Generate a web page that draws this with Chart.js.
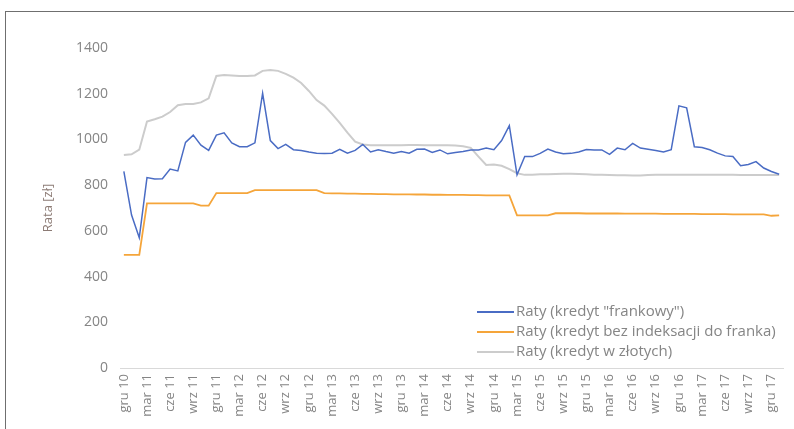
<!DOCTYPE html>
<html>
<head>
<meta charset="utf-8">
<script src="https://cdn.jsdelivr.net/npm/chart.js@4.4.1/dist/chart.umd.min.js"></script>
<style>
  html, body { margin: 0; padding: 0; background: #fff; }
  #wrap { position: relative; width: 794px; height: 429px; overflow: hidden; }
  #frame { position: absolute; left: 5px; top: 11px; width: 800px; height: 440px; border: 1px solid #6f6f6f; }
  canvas { position: absolute; left: 0; top: 0; }
</style>
</head>
<body>
<div id="wrap">
  <div id="frame"></div>
  <canvas id="rateChart" width="794" height="429"></canvas>
</div>
<script>
const monthNames = ["sty", "lut", "mar", "kwi", "maj", "cze", "lip", "sie", "wrz", "paź", "lis", "gru"];
// gru 10 .. sty 18, monthly
const months = ["gru 10"];
for (let y = 11; y <= 18; y++) {
    for (let m = 0; m < 12; m++) {
        if (y === 18 && m > 0) break;
        months.push(monthNames[m] + " " + y);
    }
}

const ratyFrankowy = [
    860, 669, 570, 833, 827, 828, 870, 862, 987, 1019,
    975, 952, 1019, 1029, 985, 968, 968, 985, 1202, 995,
    960, 978, 955, 952, 945, 940, 938, 940, 957, 940,
    952, 978, 945, 955, 947, 940, 947, 940, 957, 958,
    943, 954, 937, 943, 947, 954, 954, 962, 955, 995,
    1060, 845, 925, 925, 939, 958, 945, 937, 939, 945,
    956, 954, 954, 935, 962, 955, 983, 962, 957, 952,
    945, 955, 1147, 1138, 968, 965, 955, 940, 928, 925,
    885, 890, 903, 875, 860, 848
];

const ratyBezIndeksacji = [
    495, 495, 495, 720, 720, 720, 720, 720, 720, 720,
    710, 710, 765, 765, 765, 765, 765, 778, 778, 778,
    778, 778, 778, 778, 778, 778, 765, 764, 764, 763,
    763, 762, 762, 761, 761, 760, 760, 760, 759, 759,
    758, 758, 757, 757, 757, 756, 756, 755, 755, 755,
    755, 668, 668, 668, 668, 668, 677, 677, 677, 677,
    676, 676, 676, 676, 676, 675, 675, 675, 675, 675,
    674, 674, 674, 674, 674, 673, 673, 673, 673, 672,
    672, 672, 672, 672, 666, 668
];

const ratyZlotowe = [
    932, 935, 955, 1078, 1088, 1100, 1120, 1150, 1155, 1155,
    1162, 1180, 1278, 1282, 1280, 1277, 1277, 1280, 1300, 1304,
    1300, 1287, 1270, 1247, 1212, 1172, 1148, 1112, 1072, 1030,
    990, 978, 975, 975, 974, 974, 975, 976, 976, 975,
    975, 974, 974, 973, 970, 963, 925, 888, 890, 885,
    870, 852, 845, 846, 848, 848, 849, 850, 850, 849,
    848, 846, 845, 844, 843, 843, 842, 842, 844, 845,
    845, 846, 846, 846, 846, 846, 845, 845, 845, 845,
    844, 844, 844, 844, 844, 844
];

const fontFamily = "'Open Sans', Lato, sans-serif";
const textColor = "#858585";

// legend drawn inside the plot, bottom right
const boxLegend = {
    id: "boxLegend",
    afterDraw(chart) {
        const ctx = chart.ctx;
        const x = 477, y0 = 312, rowH = 20;
        ctx.save();
        ctx.font = "15px " + fontFamily;
        ctx.textBaseline = "middle";
        chart.data.datasets.forEach((ds, i) => {
            const y = y0 + i * rowH;
            ctx.strokeStyle = ds.borderColor;
            ctx.lineWidth = 2;
            ctx.beginPath();
            ctx.moveTo(x, y);
            ctx.lineTo(x + 37, y);
            ctx.stroke();
            ctx.fillStyle = textColor;
            ctx.fillText(ds.label, x + 39, y);
        });
        ctx.restore();
    }
};

new Chart(document.getElementById("rateChart"), {
    type: "line",
    data: {
        labels: months,
        datasets: [
            {
                label: 'Raty (kredyt "frankowy")',
                data: ratyFrankowy,
                borderColor: "#4a6cc4",
                borderWidth: 1.5
            },
            {
                label: "Raty (kredyt bez indeksacji do franka)",
                data: ratyBezIndeksacji,
                borderColor: "#f5a53a",
                borderWidth: 1.8
            },
            {
                label: "Raty (kredyt w złotych)",
                data: ratyZlotowe,
                borderColor: "#cccccc",
                borderWidth: 2
            }
        ]
    },
    options: {
        responsive: false,
        animation: false,
        elements: {
            point: { radius: 0 },
            line: { tension: 0 }
        },
        layout: {
            padding: { left: 36, right: 11, top: 48, bottom: 0 }
        },
        scales: {
            x: {
                offset: true,
                grid: { display: false, drawTicks: false },
                border: { display: true, color: "#d9d9d9" },
                ticks: {
                    autoSkip: false,
                    minRotation: 90,
                    maxRotation: 90,
                    padding: 6,
                    color: textColor,
                    font: { family: fontFamily, size: 13 },
                    callback: function (value, index) {
                        return index % 3 === 0 ? months[index] : "";
                    }
                },
                afterFit: function (scale) {
                    scale.height = 61;
                    scale.paddingLeft = 0;
                    scale.paddingRight = 0;
                }
            },
            y: {
                min: 0,
                max: 1400,
                grid: { display: false, drawTicks: false },
                border: { display: false },
                ticks: {
                    stepSize: 200,
                    padding: 12,
                    color: textColor,
                    font: { family: fontFamily, size: 14 },
                    callback: function (value) {
                        return String(value);
                    }
                },
                title: {
                    display: true,
                    text: "Rata [zł]",
                    color: "#8c7b75",
                    font: { family: fontFamily, size: 13 }
                },
                afterFit: function (scale) {
                    scale.width = 84;
                    scale.paddingTop = 0;
                    scale.paddingBottom = 0;
                }
            }
        },
        plugins: {
            legend: { display: false },
            tooltip: { enabled: false }
        }
    },
    plugins: [boxLegend]
});
</script>
</body>
</html>
